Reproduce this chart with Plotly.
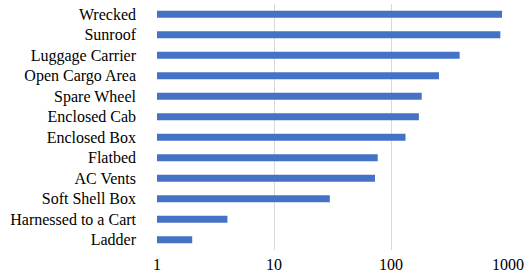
import plotly.graph_objects as go

categories = ["Wrecked", "Sunroof", "Luggage Carrier", "Open Cargo Area", "Spare Wheel",
              "Enclosed Cab", "Enclosed Box", "Flatbed", "AC Vents", "Soft Shell Box",
              "Harnessed to a Cart", "Ladder"]
values = [889, 860, 386, 257, 183, 173, 133, 77, 73, 30, 4, 2]
tick_vals = [1, 10, 100, 1000]
tick_text = ["1", "10", "100", "1000"]

fig = go.Figure(go.Bar(
    y=categories, x=values, orientation="h",
    marker=dict(color="#4472C4", line=dict(width=0)),
    width=0.35,
))
fig.update_layout(
    width=532, height=273,
    margin=dict(l=157, r=24, t=4, b=23, autoexpand=False),
    plot_bgcolor="white", paper_bgcolor="white",
    font=dict(family="Liberation Serif, Times New Roman, serif", size=16, color="#000000"),
    showlegend=False,
)
fig.update_xaxes(type="log", range=[0, 3], tickvals=tick_vals, ticktext=tick_text,
                 showgrid=True, gridcolor="#d9d9d9", gridwidth=1, zeroline=False,
                 showline=False, ticks="", ticklabelstandoff=3, automargin=False)
fig.update_yaxes(autorange="reversed", showgrid=False, showline=False, ticks="",
                 ticklabelstandoff=20, automargin=False)
fig.write_html("out.html", config={"displayModeBar": False},
               post_script="document.body.style.margin='0';document.body.style.padding='0';")
